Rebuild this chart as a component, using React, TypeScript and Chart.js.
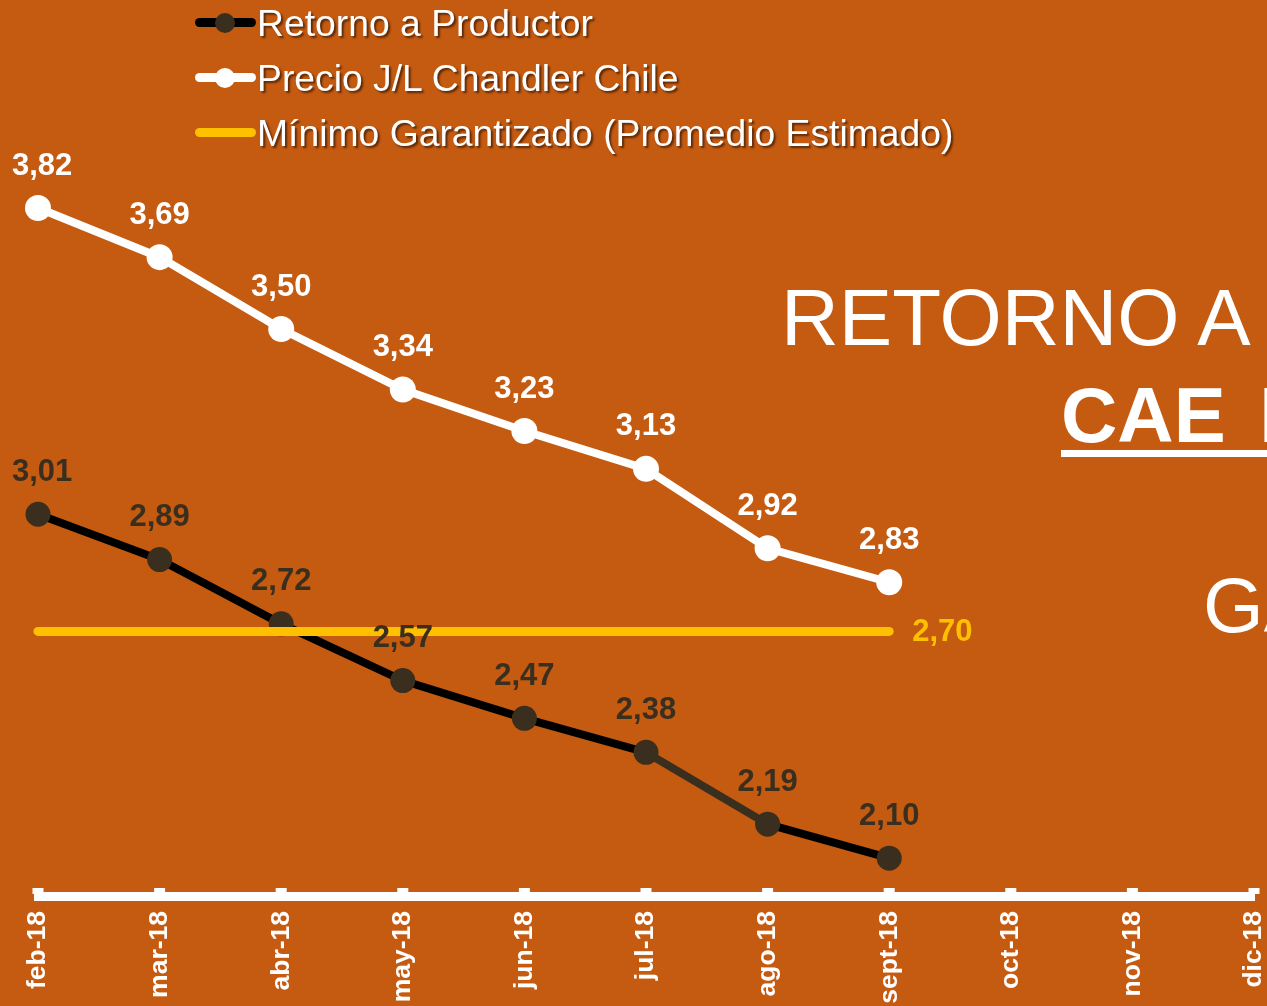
import React, { useEffect, useRef } from 'react';
import { Chart, registerables } from 'chart.js';

Chart.register(...registerables);

// ---- data ----
const categories = ['feb-18', 'mar-18', 'abr-18', 'may-18', 'jun-18', 'jul-18', 'ago-18', 'sept-18', 'oct-18', 'nov-18', 'dic-18'];
const retornoProductor = [3.01, 2.89, 2.72, 2.57, 2.47, 2.38, 2.19, 2.10, null, null, null];
const precioChandler = [3.82, 3.69, 3.50, 3.34, 3.23, 3.13, 2.92, 2.83, null, null, null];
const minimoGarantizado = [2.70, 2.70, 2.70, 2.70, 2.70, 2.70, 2.70, 2.70, null, null, null];
const seriesNames = ['Retorno a Productor', 'Precio J/L Chandler Chile', 'Mínimo Garantizado (Promedio Estimado)'];
const titleLines = ['RETORNO A PRODUCTOR', 'CAE BAJO', 'GARANTIZADO'];
const yMin = 2.0;
const yMax = 4.0;

const FONT = '"Liberation Sans", Arial, Helvetica, sans-serif';
const BG = '#C55A11';
const DARK = '#3A2E1E';
const YELLOW = '#FFC000';

const fmt = (v: number) => v.toFixed(2).replace('.', ',');

const valueLabels = {
  id: 'valueLabels',
  afterDatasetsDraw(chart: any) {
    const ctx = chart.ctx;
    ctx.save();
    ctx.font = `bold 31px ${FONT}`;
    ctx.textBaseline = 'middle';
    chart.data.datasets.forEach((ds: any, i: number) => {
      const meta = chart.getDatasetMeta(i);
      ctx.fillStyle = ds.labelColor;
      if (ds.labelMode === 'above') {
        meta.data.forEach((pt: any, j: number) => {
          const v = ds.data[j];
          if (v == null) return;
          const txt = fmt(v);
          const w = ctx.measureText(txt).width;
          let x = pt.x;
          if (x - w / 2 < 12) x = 12 + w / 2;
          ctx.textAlign = 'center';
          ctx.fillText(txt, x, pt.y - 42);
        });
      } else if (ds.labelMode === 'end') {
        let last = -1;
        ds.data.forEach((v: any, j: number) => { if (v != null) last = j; });
        if (last >= 0) {
          const pt = meta.data[last];
          ctx.textAlign = 'left';
          ctx.fillText(fmt(ds.data[last]), pt.x + 23, pt.y + 1);
        }
      }
    });
    ctx.restore();
  },
};

const axisTicks = {
  id: 'axisTicks',
  afterDraw(chart: any) {
    const sx = chart.scales.x;
    const ctx = chart.ctx;
    ctx.save();
    ctx.fillStyle = '#ffffff';
    sx.ticks.forEach((_t: any, i: number) => {
      const px = sx.getPixelForTick(i);
      ctx.fillRect(px - 5.5, sx.top - 8, 11, 6);
    });
    ctx.restore();
  },
};

export default function App() {
  const ref = useRef<HTMLCanvasElement | null>(null);

  useEffect(() => {
    if (!ref.current) return;
    const chart = new Chart(ref.current, {
      type: 'line',
      data: {
        labels: categories,
        datasets: [
          {
            label: seriesNames[1],
            data: precioChandler,
            borderColor: '#ffffff',
            backgroundColor: '#ffffff',
            borderWidth: 8,
            pointRadius: 13,
            pointBorderWidth: 0,
            pointBackgroundColor: '#ffffff',
            tension: 0,
            clip: false,
            order: 1,
            labelColor: '#ffffff',
            labelMode: 'above',
          } as any,
          {
            label: seriesNames[2],
            data: minimoGarantizado,
            borderColor: YELLOW,
            backgroundColor: YELLOW,
            borderWidth: 9,
            borderCapStyle: 'round',
            pointRadius: 0,
            tension: 0,
            clip: false,
            order: 2,
            labelColor: YELLOW,
            labelMode: 'end',
          } as any,
          {
            label: seriesNames[0],
            data: retornoProductor,
            borderColor: '#000000',
            backgroundColor: DARK,
            borderWidth: 8,
            pointRadius: 12.5,
            pointBorderWidth: 0,
            pointBackgroundColor: DARK,
            tension: 0,
            clip: false,
            order: 3,
            segment: {
              borderColor: (c: any) => (c.p0DataIndex === 5 ? DARK : undefined),
            },
            labelColor: DARK,
            labelMode: 'above',
          } as any,
        ],
      },
      options: {
        responsive: false,
        animation: false,
        devicePixelRatio: 1,
        layout: { padding: { left: 38, right: 13, top: 140, bottom: 0 } },
        plugins: {
          legend: { display: false },
          tooltip: { enabled: false },
          title: { display: false },
        },
        scales: {
          x: {
            offset: false,
            grid: { display: true, drawOnChartArea: false, drawTicks: false, color: '#ffffff' },
            border: { display: true, color: '#ffffff', width: 9 },
            ticks: {
              color: '#ffffff',
              font: { family: FONT, size: 26.5, weight: 'bold' },
              minRotation: 90,
              maxRotation: 90,
              autoSkip: false,
              padding: 15,
            },
            afterFit: (scale: any) => {
              scale.height = 110;
              scale.paddingLeft = 0;
              scale.paddingRight = 0;
            },
          },
          y: {
            display: false,
            min: yMin,
            max: yMax,
          },
        },
      } as any,
      plugins: [valueLabels, axisTicks],
    });
    return () => chart.destroy();
  }, []);

  const legendText: React.CSSProperties = {
    position: 'absolute',
    left: 257,
    fontFamily: FONT,
    fontSize: 37.3,
    lineHeight: '37px',
    color: '#ffffff',
    whiteSpace: 'nowrap',
    textShadow: '2px 2px 2px rgba(0,0,0,0.55)',
  };
  const lineBar = (top: number, color: string): React.CSSProperties => ({
    position: 'absolute',
    left: 195,
    top: top - 4.5,
    width: 61,
    height: 9,
    borderRadius: 4.5,
    background: color,
  });
  const dot = (top: number, color: string): React.CSSProperties => ({
    position: 'absolute',
    left: 215,
    top: top - 10,
    width: 20,
    height: 20,
    borderRadius: '50%',
    background: color,
  });

  return (
    <div
      style={{
        position: 'fixed',
        left: 0,
        top: 0,
        width: 1267,
        height: 1006,
        background: BG,
        overflow: 'hidden',
        fontFamily: FONT,
      }}
    >
      <canvas ref={ref} width={1267} height={1006} style={{ position: 'absolute', left: 0, top: 0, width: 1267, height: 1006 }} />

      {/* legend */}
      <div style={lineBar(22.5, '#000000')} />
      <div style={dot(22.5, DARK)} />
      <div style={{ ...legendText, top: 5 }}>{seriesNames[0]}</div>
      <div style={lineBar(77.5, '#ffffff')} />
      <div style={dot(77.5, '#ffffff')} />
      <div style={{ ...legendText, top: 60 }}>{seriesNames[1]}</div>
      <div style={lineBar(132.5, YELLOW)} />
      <div style={{ ...legendText, top: 115 }}>{seriesNames[2]}</div>

      {/* slide title (clipped at the right edge) */}
      <div style={{ position: 'absolute', left: 781, top: 278, fontSize: 80, lineHeight: '80px', color: '#fff', whiteSpace: 'nowrap' }}>
        {titleLines[0]}
      </div>
      <div style={{ position: 'absolute', left: 1061, top: 376, fontSize: 78, lineHeight: '78px', fontWeight: 'bold', color: '#fff', whiteSpace: 'nowrap', wordSpacing: 12 }}>
        {titleLines[1]}
      </div>
      <div style={{ position: 'absolute', left: 1061, top: 450, width: 400, height: 7, background: '#fff' }} />
      <div style={{ position: 'absolute', left: 1203, top: 566, fontSize: 78, lineHeight: '78px', color: '#fff', whiteSpace: 'nowrap' }}>
        {titleLines[2]}
      </div>
    </div>
  );
}
